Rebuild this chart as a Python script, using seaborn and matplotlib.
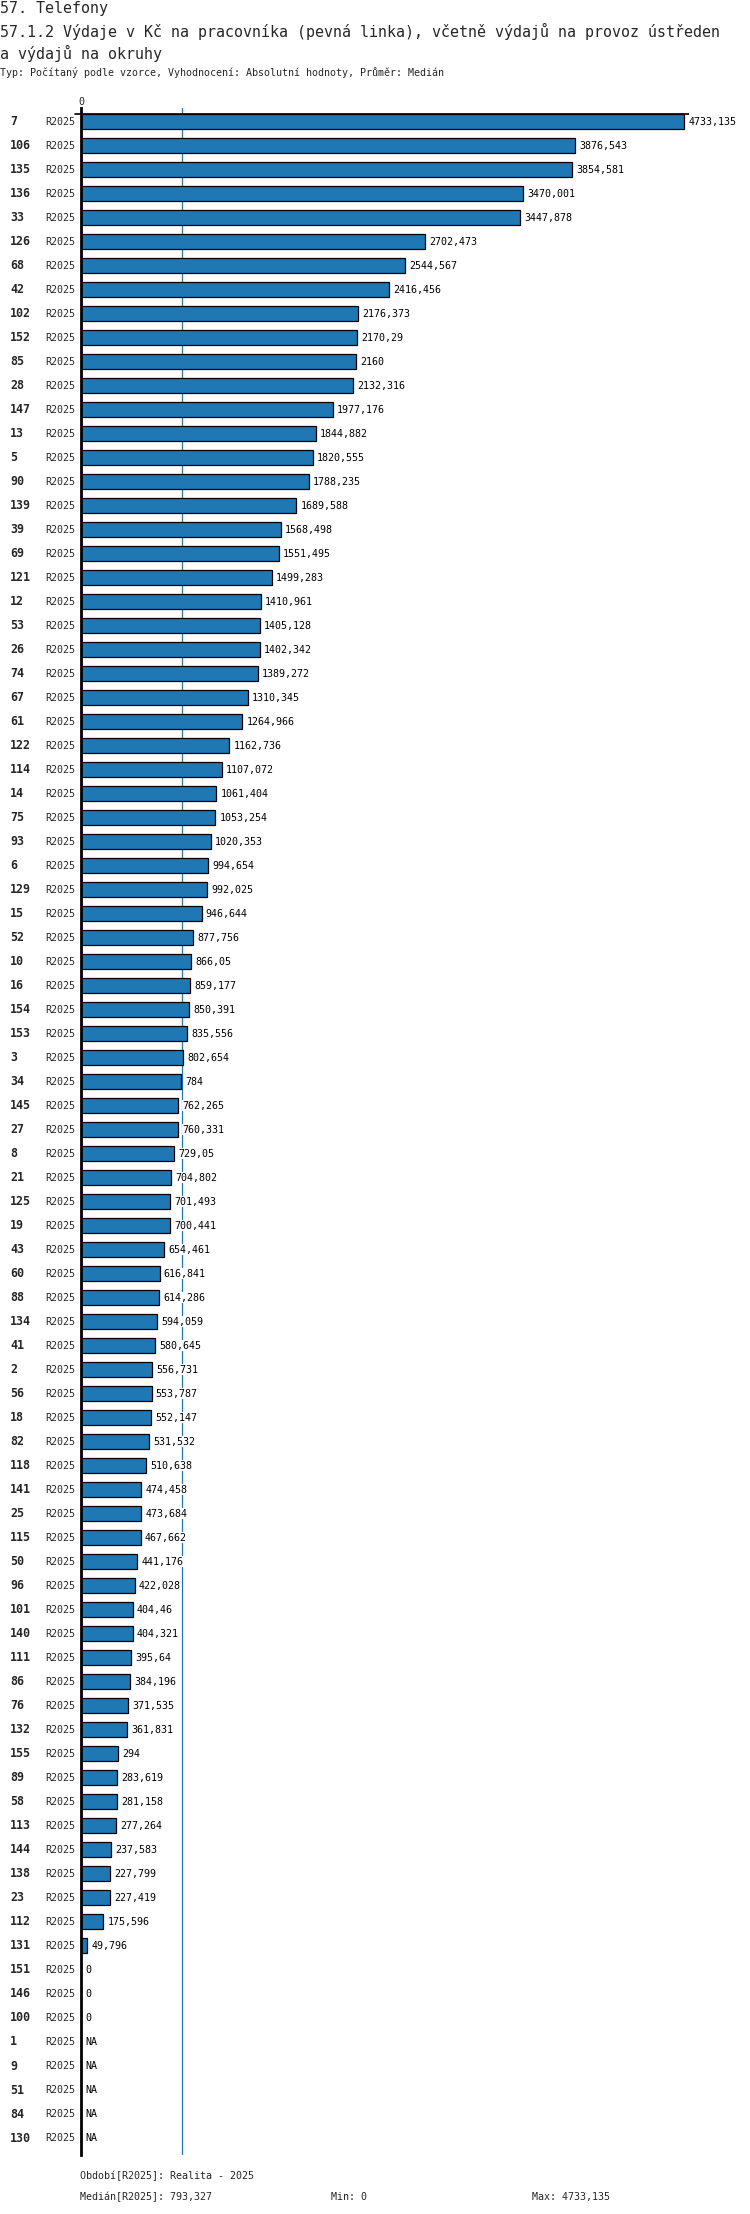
import numpy as np
import pandas as pd
import matplotlib
matplotlib.use("Agg")
import matplotlib.pyplot as plt
import matplotlib.transforms as mtransforms
import seaborn as sns

# ---------------- data ----------------
categories = ["7", "106", "135", "136", "33", "126", "68", "42", "102", "152",
              "85", "28", "147", "13", "5", "90", "139", "39", "69", "121",
              "12", "53", "26", "74", "67", "61", "122", "114", "14", "75",
              "93", "6", "129", "15", "52", "10", "16", "154", "153", "3",
              "34", "145", "27", "8", "21", "125", "19", "43", "60", "88",
              "134", "41", "2", "56", "18", "82", "118", "141", "25", "115",
              "50", "96", "101", "140", "111", "86", "76", "132", "155", "89",
              "58", "113", "144", "138", "23", "112", "131", "151", "146", "100",
              "1", "9", "51", "84", "130"]
values = [4733.135, 3876.543, 3854.581, 3470.001, 3447.878, 2702.473, 2544.567, 2416.456, 2176.373, 2170.29,
          2160, 2132.316, 1977.176, 1844.882, 1820.555, 1788.235, 1689.588, 1568.498, 1551.495, 1499.283,
          1410.961, 1405.128, 1402.342, 1389.272, 1310.345, 1264.966, 1162.736, 1107.072, 1061.404, 1053.254,
          1020.353, 994.654, 992.025, 946.644, 877.756, 866.05, 859.177, 850.391, 835.556, 802.654,
          784, 762.265, 760.331, 729.05, 704.802, 701.493, 700.441, 654.461, 616.841, 614.286,
          594.059, 580.645, 556.731, 553.787, 552.147, 531.532, 510.638, 474.458, 473.684, 467.662,
          441.176, 422.028, 404.46, 404.321, 395.64, 384.196, 371.535, 361.831, 294, 283.619,
          281.158, 277.264, 237.583, 227.799, 227.419, 175.596, 49.796, 0, 0, 0,
          np.nan, np.nan, np.nan, np.nan, np.nan]
period_label = "R2025"
median_value = 793.327
min_value = 0
max_value = 4733.135

title1 = "57. Telefony"
title2 = "57.1.2 Výdaje v Kč na pracovníka (pevná linka), včetně výdajů na provoz ústředen"
title3 = "a výdajů na okruhy"
subtitle = "Typ: Počítaný podle vzorce, Vyhodnocení: Absolutní hodnoty, Průměr: Medián"
footer1 = "Období[R2025]: Realita - 2025"

def fmt(v):
    if v is None or (isinstance(v, float) and np.isnan(v)):
        return "NA"
    s = f"{v:.3f}".rstrip("0").rstrip(".")
    return s.replace(".", ",")

df = pd.DataFrame({"cat": categories, "val": values})

# ---------------- figure ----------------
sns.set_style("white")
plt.rcParams["font.family"] = ["DejaVu Sans Mono", "DejaVu Sans"]

W, H = 750, 2214
fig = plt.figure(figsize=(W / 100, H / 100), dpi=100)

def fy(ypx):
    return 1 - ypx / H

x0_px, xmaxbar_px, right_px = 81, 684, 740
top_px, bot_px = 108, 2155
row0_px, pitch = 122, 24

ax = fig.add_axes([x0_px / W, fy(bot_px), (right_px - x0_px) / W, (bot_px - top_px) / H])
ax.set_facecolor("none")

BLUE = "#1f77b4"
sns.barplot(data=df, x="val", y="cat", order=categories, orient="h",
            color=BLUE, saturation=1, edgecolor="black", linewidth=0.9,
            width=15 / 24, errorbar=None, ax=ax, zorder=2)

n = len(categories)
xmax = max_value * (right_px - x0_px) / (xmaxbar_px - x0_px)
ax.set_xlim(0, xmax)
ax.set_ylim((bot_px - row0_px) / pitch, (top_px - row0_px) / pitch)

for s in ["top", "right", "bottom"]:
    ax.spines[s].set_visible(False)
ax.spines["left"].set_linewidth(2.0)
ax.spines["left"].set_color("black")
ax.set_xticks([])
ax.set_yticks([])
ax.set_xlabel("")
ax.set_ylabel("")

# top line and zero tick
ytop_line = (114 - row0_px) / pitch
ax.hlines(ytop_line, 0, max_value * 1.008, color="black", lw=1.2, zorder=4, clip_on=False)
trans_px = mtransforms.blended_transform_factory(fig.transFigure, ax.transData)
ax.plot([75 / W, x0_px / W], [ytop_line, ytop_line], color="black", lw=1.2,
        transform=trans_px, clip_on=False, zorder=4)
fig.text(x0_px / W, fy(102), "0", ha="center", va="center", fontsize=7.2)

# median line
ax.axvline(median_value, color=BLUE, lw=0.9, zorder=1)

# value labels
for i, v in enumerate(values):
    xv = 0 if np.isnan(v) else v
    ax.annotate(fmt(v), xy=(xv, i), xytext=(3, 0), textcoords="offset points",
                ha="left", va="center", fontsize=7.2, color="black", zorder=5,
                bbox=dict(boxstyle="square,pad=0.05", fc="white", ec="none"))

# category labels
for i, c in enumerate(categories):
    ax.text(10 / W, i, c, transform=trans_px, ha="left", va="center",
            fontsize=8.4, fontweight="bold", clip_on=False)
    ax.text(45 / W, i, period_label, transform=trans_px, ha="left", va="center",
            fontsize=7.2, clip_on=False)

# titles
fig.text(0, fy(8), title1, ha="left", va="center", fontsize=10.8)
fig.text(0, fy(31), title2, ha="left", va="center", fontsize=10.8)
fig.text(0, fy(53), title3, ha="left", va="center", fontsize=10.8)
fig.text(0, fy(73), subtitle, ha="left", va="center", fontsize=7.2)

# footer
fig.text(80 / W, fy(2176), footer1, ha="left", va="center", fontsize=7.2)
fig.text(80 / W, fy(2197), f"Medián[{period_label}]: {fmt(median_value)}", ha="left", va="center", fontsize=7.2)
fig.text(331 / W, fy(2197), f"Min: {fmt(min_value)}", ha="left", va="center", fontsize=7.2)
fig.text(532 / W, fy(2197), f"Max: {fmt(max_value)}", ha="left", va="center", fontsize=7.2)

fig.savefig("out.png", dpi=100)
